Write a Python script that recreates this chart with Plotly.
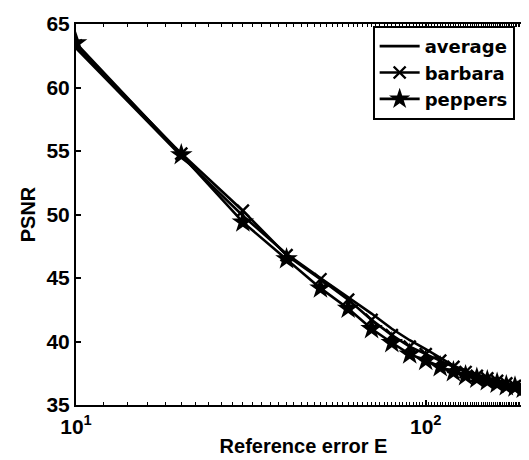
import plotly.graph_objects as go

E = [10, 20, 30, 40, 50, 60, 70, 80, 90, 100, 110, 120, 130, 140, 150, 160, 170, 180, 190, 200]
average = [63.1, 54.6, 49.9, 46.9, 45.0, 43.5, 42.2, 41.0, 40.1, 39.4, 38.7, 38.1, 37.7, 37.4, 37.1, 36.9, 36.7, 36.5, 36.3, 36.2]
barbara = [63.3, 54.8, 50.3, 46.8, 44.9, 43.3, 41.7, 40.5, 39.6, 39.0, 38.5, 38.0, 37.6, 37.3, 37.1, 36.9, 36.7, 36.5, 36.4, 36.3]
peppers = [63.5, 54.7, 49.4, 46.5, 44.2, 42.6, 41.0, 39.9, 39.0, 38.5, 38.0, 37.6, 37.3, 37.1, 36.9, 36.7, 36.5, 36.4, 36.3, 36.2]

x_tickvals = [10, 100]
x_ticktext = ["<b>10<sup>1</sup></b>", "<b>10<sup>2</sup></b>"]
y_tickvals = [35, 40, 45, 50, 55, 60, 65]
y_ticktext = ["<b>%d</b>" % v for v in y_tickvals]

FONT = "Liberation Sans, Arial, sans-serif"
LEG_FONT = "DejaVu Sans, sans-serif"

fig = go.Figure()
fig.add_trace(go.Scatter(x=E, y=average, mode="lines", name="<b>average</b>",
                         line=dict(color="black", width=2.6)))
fig.add_trace(go.Scatter(x=E, y=barbara, mode="lines+markers", name="<b>barbara</b>",
                         line=dict(color="black", width=2.6),
                         marker=dict(symbol="x-thin", size=12, color="black",
                                     line=dict(color="black", width=2.4))))
fig.add_trace(go.Scatter(x=E, y=peppers, mode="lines+markers", name="<b>peppers</b>",
                         line=dict(color="black", width=2.6),
                         marker=dict(symbol="star", size=17, color="black")))

fig.update_layout(
    width=529, height=460,
    margin=dict(l=68, r=4, t=13, b=63),
    paper_bgcolor="white", plot_bgcolor="white",
    font=dict(family=FONT, size=21, color="black"),
    showlegend=True,
    legend=dict(x=0.652, y=0.995, xanchor="left", yanchor="top",
                bgcolor="white", bordercolor="black", borderwidth=2,
                font=dict(family=LEG_FONT, size=18, color="black"),
                itemwidth=40, tracegroupgap=0),
    xaxis=dict(type="log", range=[1, 2.30103],
               tickmode="array", tickvals=x_tickvals, ticktext=x_ticktext,
               ticks="inside", ticklen=5, tickwidth=1.5, tickcolor="black",
               ticklabelstandoff=2,
               minor=dict(ticks="inside", ticklen=3, tickcolor="black", tickwidth=1.2, showgrid=False),
               showline=True, linecolor="black", linewidth=2, mirror="ticks",
               showgrid=False, zeroline=False,
               title=dict(text="<b>Reference error E</b>", font=dict(size=20), standoff=2)),
    yaxis=dict(range=[35, 65], tickmode="array", tickvals=y_tickvals, ticktext=y_ticktext,
               ticks="inside", ticklen=5, tickwidth=1.5, tickcolor="black",
               showline=True, linecolor="black", linewidth=2, mirror="ticks",
               showgrid=False, zeroline=False,
               title=dict(text="<b>PSNR</b>", font=dict(size=20), standoff=5)),
)

fig.write_html("out.html")
